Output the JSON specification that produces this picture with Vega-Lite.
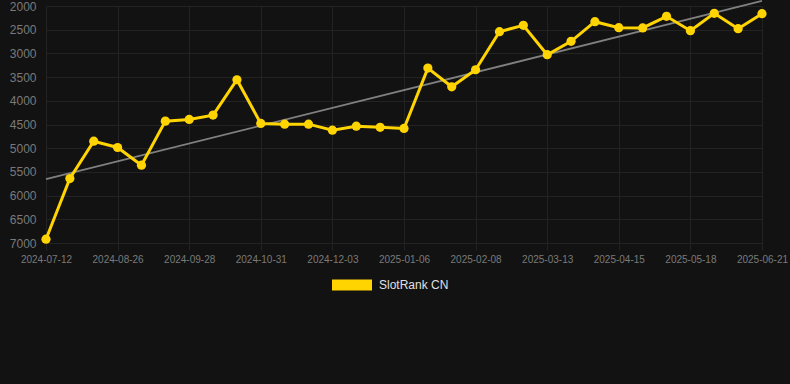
{
  "$schema": "https://vega.github.io/schema/vega-lite/v6.json",
  "autosize": {"type": "none"},
  "padding": {"left": 40, "top": 6, "right": 0, "bottom": 141},
  "width": 750,
  "height": 237,
  "background": "#121212",
  "config": {
    "view": {"stroke": null},
    "font": "Liberation Sans, Arial, sans-serif",
    "axis": {"gridColor": "#232323", "gridWidth": 1, "domain": false, "title": null, "labelFont": "Liberation Sans, Arial, sans-serif"},
    "axisY": {
      "values": [2000, 2500, 3000, 3500, 4000, 4500, 5000, 5500, 6000, 6500, 7000],
      "tickCount": 11,
      "format": "d",
      "labelFontSize": 12,
      "labelColor": "#7a7a7a",
      "ticks": false,
      "labelPadding": 4,
      "labelOverlap": false,
      "grid": true
    }
  },
  "data": {
    "values": [
      {"date": "2024-07-12", "rank": 6920, "trend": 5654},
      {"date": "2024-07-27", "rank": 5640},
      {"date": "2024-08-11", "rank": 4852},
      {"date": "2024-08-26", "rank": 4985},
      {"date": "2024-09-06", "rank": 5359},
      {"date": "2024-09-17", "rank": 4429},
      {"date": "2024-09-28", "rank": 4394},
      {"date": "2024-10-09", "rank": 4302},
      {"date": "2024-10-20", "rank": 3556},
      {"date": "2024-10-31", "rank": 4478},
      {"date": "2024-11-11", "rank": 4493},
      {"date": "2024-11-22", "rank": 4493},
      {"date": "2024-12-03", "rank": 4620},
      {"date": "2024-12-14", "rank": 4535},
      {"date": "2024-12-25", "rank": 4560},
      {"date": "2025-01-06", "rank": 4584},
      {"date": "2025-01-17", "rank": 3310},
      {"date": "2025-01-28", "rank": 3704},
      {"date": "2025-02-08", "rank": 3345},
      {"date": "2025-02-19", "rank": 2542},
      {"date": "2025-03-02", "rank": 2408},
      {"date": "2025-03-13", "rank": 3028},
      {"date": "2025-03-24", "rank": 2746},
      {"date": "2025-04-04", "rank": 2331},
      {"date": "2025-04-15", "rank": 2458},
      {"date": "2025-04-26", "rank": 2462},
      {"date": "2025-05-07", "rank": 2218},
      {"date": "2025-05-18", "rank": 2521},
      {"date": "2025-05-29", "rank": 2155},
      {"date": "2025-06-09", "rank": 2479},
      {"date": "2025-06-21", "rank": 2162, "trend": 1894}
    ]
  },
  "encoding": {
    "x": {
      "field": "date",
      "type": "ordinal",
      "sort": "ascending",
      "scale": {"type": "point", "range": [6, 722], "padding": 0},
      "axis": {
        "values": ["2024-07-12", "2024-08-26", "2024-09-28", "2024-10-31", "2024-12-03", "2025-01-06", "2025-02-08", "2025-03-13", "2025-04-15", "2025-05-18", "2025-06-21"],
        "labelAngle": 0,
        "labelFontSize": 10,
        "labelColor": "#7a7a7a",
        "tickColor": "#232323",
        "tickSize": 7,
        "labelPadding": 4,
        "grid": true
      }
    }
  },
  "layer": [
    {
      "mark": {"type": "line", "color": "#808080", "strokeWidth": 1.8, "invalid": "filter", "clip": false},
      "encoding": {
        "y": {
          "field": "trend",
          "type": "quantitative",
          "scale": {"domain": [2000, 7000], "reverse": true, "nice": false, "zero": false}
        }
      }
    },
    {
      "mark": {"type": "line", "strokeWidth": 3},
      "encoding": {
        "y": {"field": "rank", "type": "quantitative"},
        "color": {
          "datum": "SlotRank CN",
          "type": "nominal",
          "scale": {"range": ["#ffd400"]},
          "legend": {
            "orient": "none",
            "legendX": 292,
            "legendY": 259,
            "title": null,
            "padding": 0,
            "symbolType": "M-1,-0.275h2v0.55h-2z",
            "symbolSize": 1600,
            "symbolStrokeWidth": 0,
            "symbolFillColor": "#ffd400",
            "labelFontSize": 12,
            "labelColor": "#e0e0e0",
            "labelOffset": 7
          }
        }
      }
    },
    {
      "mark": {"type": "point", "filled": true, "size": 85, "opacity": 1},
      "encoding": {
        "y": {"field": "rank", "type": "quantitative"},
        "color": {"datum": "SlotRank CN", "type": "nominal"}
      }
    }
  ]
}
